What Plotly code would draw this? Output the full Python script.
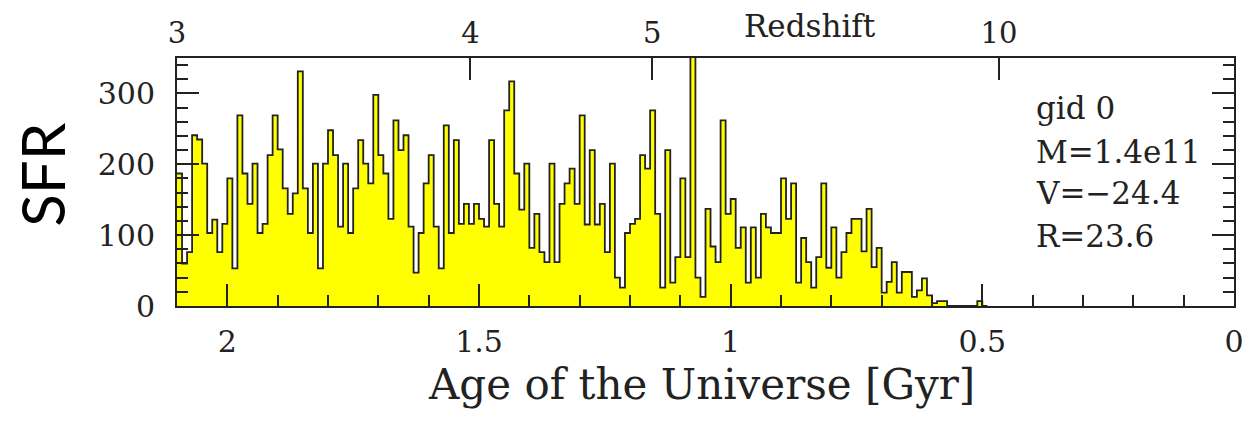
import numpy as np
import plotly.graph_objects as go

# Star formation history binned in cosmic age (Gyr), 10 Myr bins starting at 2.1 Gyr
AGE_START = 2.1
BIN_WIDTH = 0.01
sfr = [
    187, 60, 76, 241, 235, 201, 103, 122, 76, 116,
    180, 53, 269, 187, 144, 201, 103, 116, 213, 269,
    221, 166, 130, 159, 331, 166, 103, 201, 53, 201,
    248, 213, 112, 201, 103, 166, 234, 201, 173, 298,
    213, 187, 123, 262, 220, 241, 112, 47, 103, 173,
    213, 112, 53, 255, 103, 234, 116, 144, 116, 144,
    123, 112, 234, 144, 112, 276, 317, 187, 136, 201,
    82, 130, 76, 62, 201, 62, 144, 173, 194, 144,
    269, 115, 220, 115, 144, 76, 201, 40, 26, 103,
    116, 123, 213, 194, 276, 130, 26, 220, 33, 69,
    180, 69, 380, 40, 13, 137, 84, 62, 262, 130,
    151, 82, 111, 33, 111, 40, 130, 111, 103, 103,
    180, 123, 173, 33, 96, 62, 26, 69, 173, 54,
    111, 40, 76, 103, 123, 123, 77, 137, 55, 82,
    19, 34, 62, 19, 48, 48, 13, 22, 39, 15,
    4, 7, 7, 0, 0, 0, 0, 0, 0, 7,
    0,
]

# Redshift scale on the top axis, placed at the matching cosmic age
redshift_labels = ["3", "4", "5", "10"]
redshift_ages = [2.10, 1.517, 1.156, 0.467]

age_ticks = [2, 1.5, 1, 0.5, 0]
age_labels = ["2", "1.5", "1", "0.5", "0"]
sfr_ticks = [0, 100, 200, 300]

info_lines = ["gid 0", "M=1.4e11", "V=\u221224.4", "R=23.6"]

edges = AGE_START - BIN_WIDTH * np.arange(len(sfr) + 1)
step_y = list(sfr) + [sfr[-1]]

INK = "#222222"
SERIF = "DejaVu Serif"

fig = go.Figure()
fig.add_trace(go.Scatter(
    x=edges, y=step_y, mode="lines", line_shape="hv",
    line=dict(color=INK, width=1.8),
    fill="tozeroy", fillcolor="#ffff00",
    hoverinfo="skip", showlegend=False,
))
# anchor trace for the redshift axis
fig.add_trace(go.Scatter(
    x=[AGE_START, 0], y=[0, 0], xaxis="x2", mode="lines",
    line=dict(width=0), hoverinfo="skip", showlegend=False,
))

fig.update_layout(
    width=1256, height=430,
    margin=dict(l=177, r=19, t=58, b=124),
    paper_bgcolor="white", plot_bgcolor="white",
    font=dict(family=SERIF, color=INK, size=30),
    xaxis=dict(
        range=[AGE_START, 0], tickvals=age_ticks, ticktext=age_labels,
        ticks="inside", ticklen=22, tickwidth=1.5, tickcolor=INK,
        minor=dict(dtick=0.1, tick0=0, ticks="inside", ticklen=11,
                   tickwidth=1.5, tickcolor=INK),
        showline=True, linewidth=2, linecolor=INK, mirror=True,
        showgrid=False, zeroline=False, ticklabelstandoff=8,
        tickfont=dict(family=SERIF, size=30, color=INK),
    ),
    xaxis2=dict(
        overlaying="x", side="top", anchor="y",
        range=[AGE_START, 0], tickvals=redshift_ages, ticktext=redshift_labels,
        ticks="inside", ticklen=22, tickwidth=1.5, tickcolor=INK,
        showline=False, showgrid=False, zeroline=False, ticklabelstandoff=8,
        tickfont=dict(family=SERIF, size=29, color=INK),
    ),
    yaxis=dict(
        range=[0, 350], tickvals=sfr_ticks,
        ticks="inside", ticklen=22, tickwidth=1.5, tickcolor=INK,
        minor=dict(dtick=20, tick0=0, ticks="inside", ticklen=11,
                   tickwidth=1.5, tickcolor=INK),
        showline=True, linewidth=2, linecolor=INK, mirror="ticks",
        showgrid=False, zeroline=False, ticklabelstandoff=14,
        tickfont=dict(family=SERIF, size=30, color=INK),
    ),
)

annotations = [
    dict(text="Age of the Universe [Gyr]", x=0.496, y=-0.318, xref="paper", yref="paper",
         xanchor="center", yanchor="middle", showarrow=False,
         font=dict(family=SERIF, size=42, color=INK)),
    dict(text="Redshift", x=0.599, y=1.13, xref="paper", yref="paper",
         xanchor="center", yanchor="middle", showarrow=False,
         font=dict(family=SERIF, size=31, color=INK)),
    dict(text="SFR", x=-0.128, y=0.528, xref="paper", yref="paper",
         xanchor="center", yanchor="middle", showarrow=False, textangle=-90,
         font=dict(family="Lato", size=60, color="#000000")),
]
line_y = [0.798, 0.621, 0.456, 0.282]
for txt, yy in zip(info_lines, line_y):
    annotations.append(dict(text=txt, x=0.8104, y=yy, xref="paper", yref="paper",
                            xanchor="left", yanchor="middle", showarrow=False,
                            font=dict(family=SERIF, size=31, color=INK)))
fig.update_layout(annotations=annotations)

fig.write_html("out.html")
